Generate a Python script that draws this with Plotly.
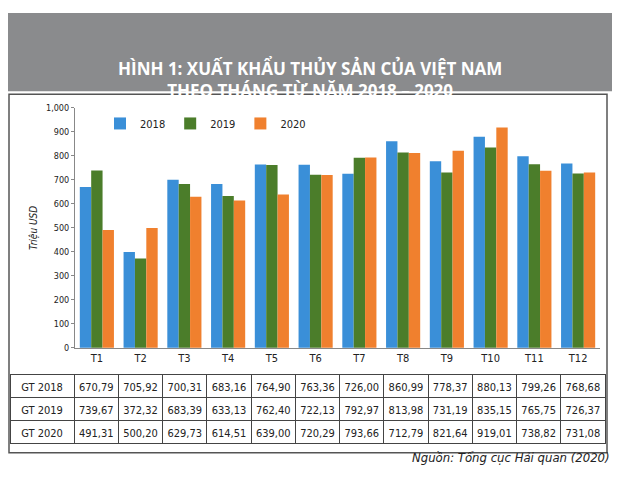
import plotly.graph_objects as go

months = ["T1","T2","T3","T4","T5","T6","T7","T8","T9","T10","T11","T12"]
v2018 = [670.79, 400, 700.31, 683.16, 764.90, 763.36, 726.00, 860.99, 778.37, 880.13, 799.26, 768.68]
v2019 = [739.67, 372.32, 683.39, 633.13, 762.40, 722.13, 792.97, 813.98, 731.19, 835.15, 765.75, 726.37]
v2020 = [491.31, 500.20, 629.73, 614.51, 639.00, 720.29, 793.66, 812, 821.64, 919.01, 738.82, 731.08]
t2018 = ["670,79","705,92","700,31","683,16","764,90","763,36","726,00","860,99","778,37","880,13","799,26","768,68"]
t2019 = ["739,67","372,32","683,39","633,13","762,40","722,13","792,97","813,98","731,19","835,15","765,75","726,37"]
t2020 = ["491,31","500,20","629,73","614,51","639,00","720,29","793,66","712,79","821,64","919,01","738,82","731,08"]
yticks = [0,100,200,300,400,500,600,700,800,900,1000]
ytext = ["0","100","200","300","400","500","600","700","800","900","1,000"]

W, H, OFF = 605, 480, 8
def px(X): return (X - OFF) / W
def py(Y): return 1 - (Y - OFF) / H

C18, C19, C20 = "#3a8fd8", "#4b7d2a", "#f0802e"
FONT = "Liberation Sans Narrow, DejaVu Sans Condensed"
fig = go.Figure()
for name, vals, c in [("2018", v2018, C18), ("2019", v2019, C19), ("2020", v2020, C20)]:
    fig.add_bar(x=months, y=vals, name=name, marker=dict(color=c, line=dict(width=0)))

cols = [["GT 2018","GT 2019","GT 2020"]] + [[a,b,c] for a,b,c in zip(t2018,t2019,t2020)]
cellstyle = dict(height=23, align="center", line=dict(color="#444", width=1),
                 fill=dict(color="white"), font=dict(family=FONT, size=11, color="#222"))
fig.add_trace(go.Table(
    domain=dict(x=[px(10), px(605)], y=[py(450), py(377)]),
    columnwidth=[1.45] + [1]*12,
    header=dict(values=[c[0] for c in cols], **cellstyle),
    cells=dict(values=[c[1:] for c in cols], **cellstyle),
))

fig.update_layout(
    width=W, height=H, margin=dict(l=0, r=0, t=0, b=0),
    paper_bgcolor="white", plot_bgcolor="white",
    barmode="group", bargap=0.22, bargroupgap=0.0,
    font=dict(family=FONT, color="#222"),
    xaxis=dict(domain=[px(75), px(600)], showline=True, linecolor="#888", ticks="", tickfont=dict(size=11)),
    yaxis=dict(domain=[py(350), py(105)], range=[0, 1000], tickvals=yticks, ticktext=ytext,
               showgrid=False, showline=True, linecolor="#888", ticks="outside", ticklen=3,
               tickcolor="#888", tickfont=dict(size=9),
               title=dict(text="<i>Triệu USD</i>", font=dict(size=10), standoff=6)),
    legend=dict(orientation="h", x=px(100), y=py(106), xanchor="left", yanchor="top",
                font=dict(size=11), bgcolor="rgba(0,0,0,0)", itemwidth=30),
    shapes=[
        dict(type="rect", xref="paper", yref="paper", x0=0, x1=px(612), y0=py(88), y1=1,
             fillcolor="#8a8b8d", line=dict(width=0), layer="below"),
        dict(type="rect", xref="paper", yref="paper", x0=px(9), x1=px(607), y0=py(457), y1=py(91),
             fillcolor="rgba(0,0,0,0)", line=dict(color="#555", width=1.5)),
    ],
    annotations=[
        dict(text="<b>HÌNH 1: XUẤT KHẨU THỦY SẢN CỦA VIỆT NAM<br>THEO THÁNG TỪ NĂM 2018 – 2020</b>",
             xref="paper", yref="paper", x=px(310), y=py(50), showarrow=False,
             font=dict(size=17, color="white", family="Open Sans"), align="center"),
        dict(text="<i>Nguồn: Tổng cục Hải quan (2020)</i>", xref="paper", yref="paper",
             x=px(612), y=py(472), xanchor="right", showarrow=False, font=dict(size=13, color="#222")),
    ],
)
fig.write_html("out.html")
